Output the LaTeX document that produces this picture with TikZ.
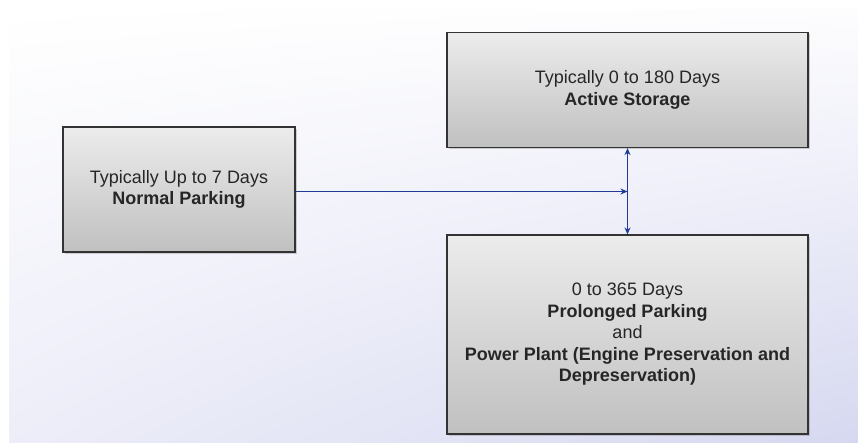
\documentclass[tikz,border=0pt]{standalone}
\usepackage{fontspec}
\setmainfont{Liberation Sans}
\usetikzlibrary{arrows.meta,shadows,shadings}

\definecolor{linkblue}{RGB}{30,60,150}
\definecolor{boxtop}{RGB}{236,236,236}
\definecolor{boxbot}{RGB}{192,192,192}
\definecolor{bglav}{RGB}{214,216,240}

\begin{document}
\begin{tikzpicture}[
  x=1pt,y=-1pt,
  >={Stealth[length=7pt,width=6pt]},
  period/.style={draw=black!80,line width=1.2pt,top color=boxtop,bottom color=boxbot,
    align=center,font=\fontsize{18}{21.5}\selectfont,text=black!85,
    drop shadow={shadow xshift=1.5pt,shadow yshift=-2pt,opacity=0.35}},
  flow/.style={linkblue,line width=1.2pt}
]
  \useasboundingbox (0,0) rectangle (858,443);
  \fill[white] (0,0) rectangle (858,443);
  \shade[upper left=white,upper right=white!95!bglav,lower left=white!55!bglav,lower right=bglav]
    (9,10) rectangle (858,443);

  \node[period,minimum width=232pt,minimum height=125pt] (normal) at (179,189.5)
    {Typically Up to 7 Days\\\textbf{Normal Parking}};
  \node[period,minimum width=361pt,minimum height=115pt] (active) at (627.5,90)
    {Typically 0 to 180 Days\\\textbf{Active Storage}};
  \node[period,minimum width=361pt,minimum height=199pt] (prolonged) at (627.5,334.5)
    {0 to 365 Days\\\textbf{Prolonged Parking}\\and\\
     \textbf{Power Plant (Engine Preservation and}\\\textbf{Depreservation)}};

  \draw[flow,->] ([yshift=-2pt]normal.east) -- ([yshift=-2pt]normal.east -| active.south);
  \draw[flow,<->] (active.south) -- (prolonged.north);
\end{tikzpicture}
\end{document}
